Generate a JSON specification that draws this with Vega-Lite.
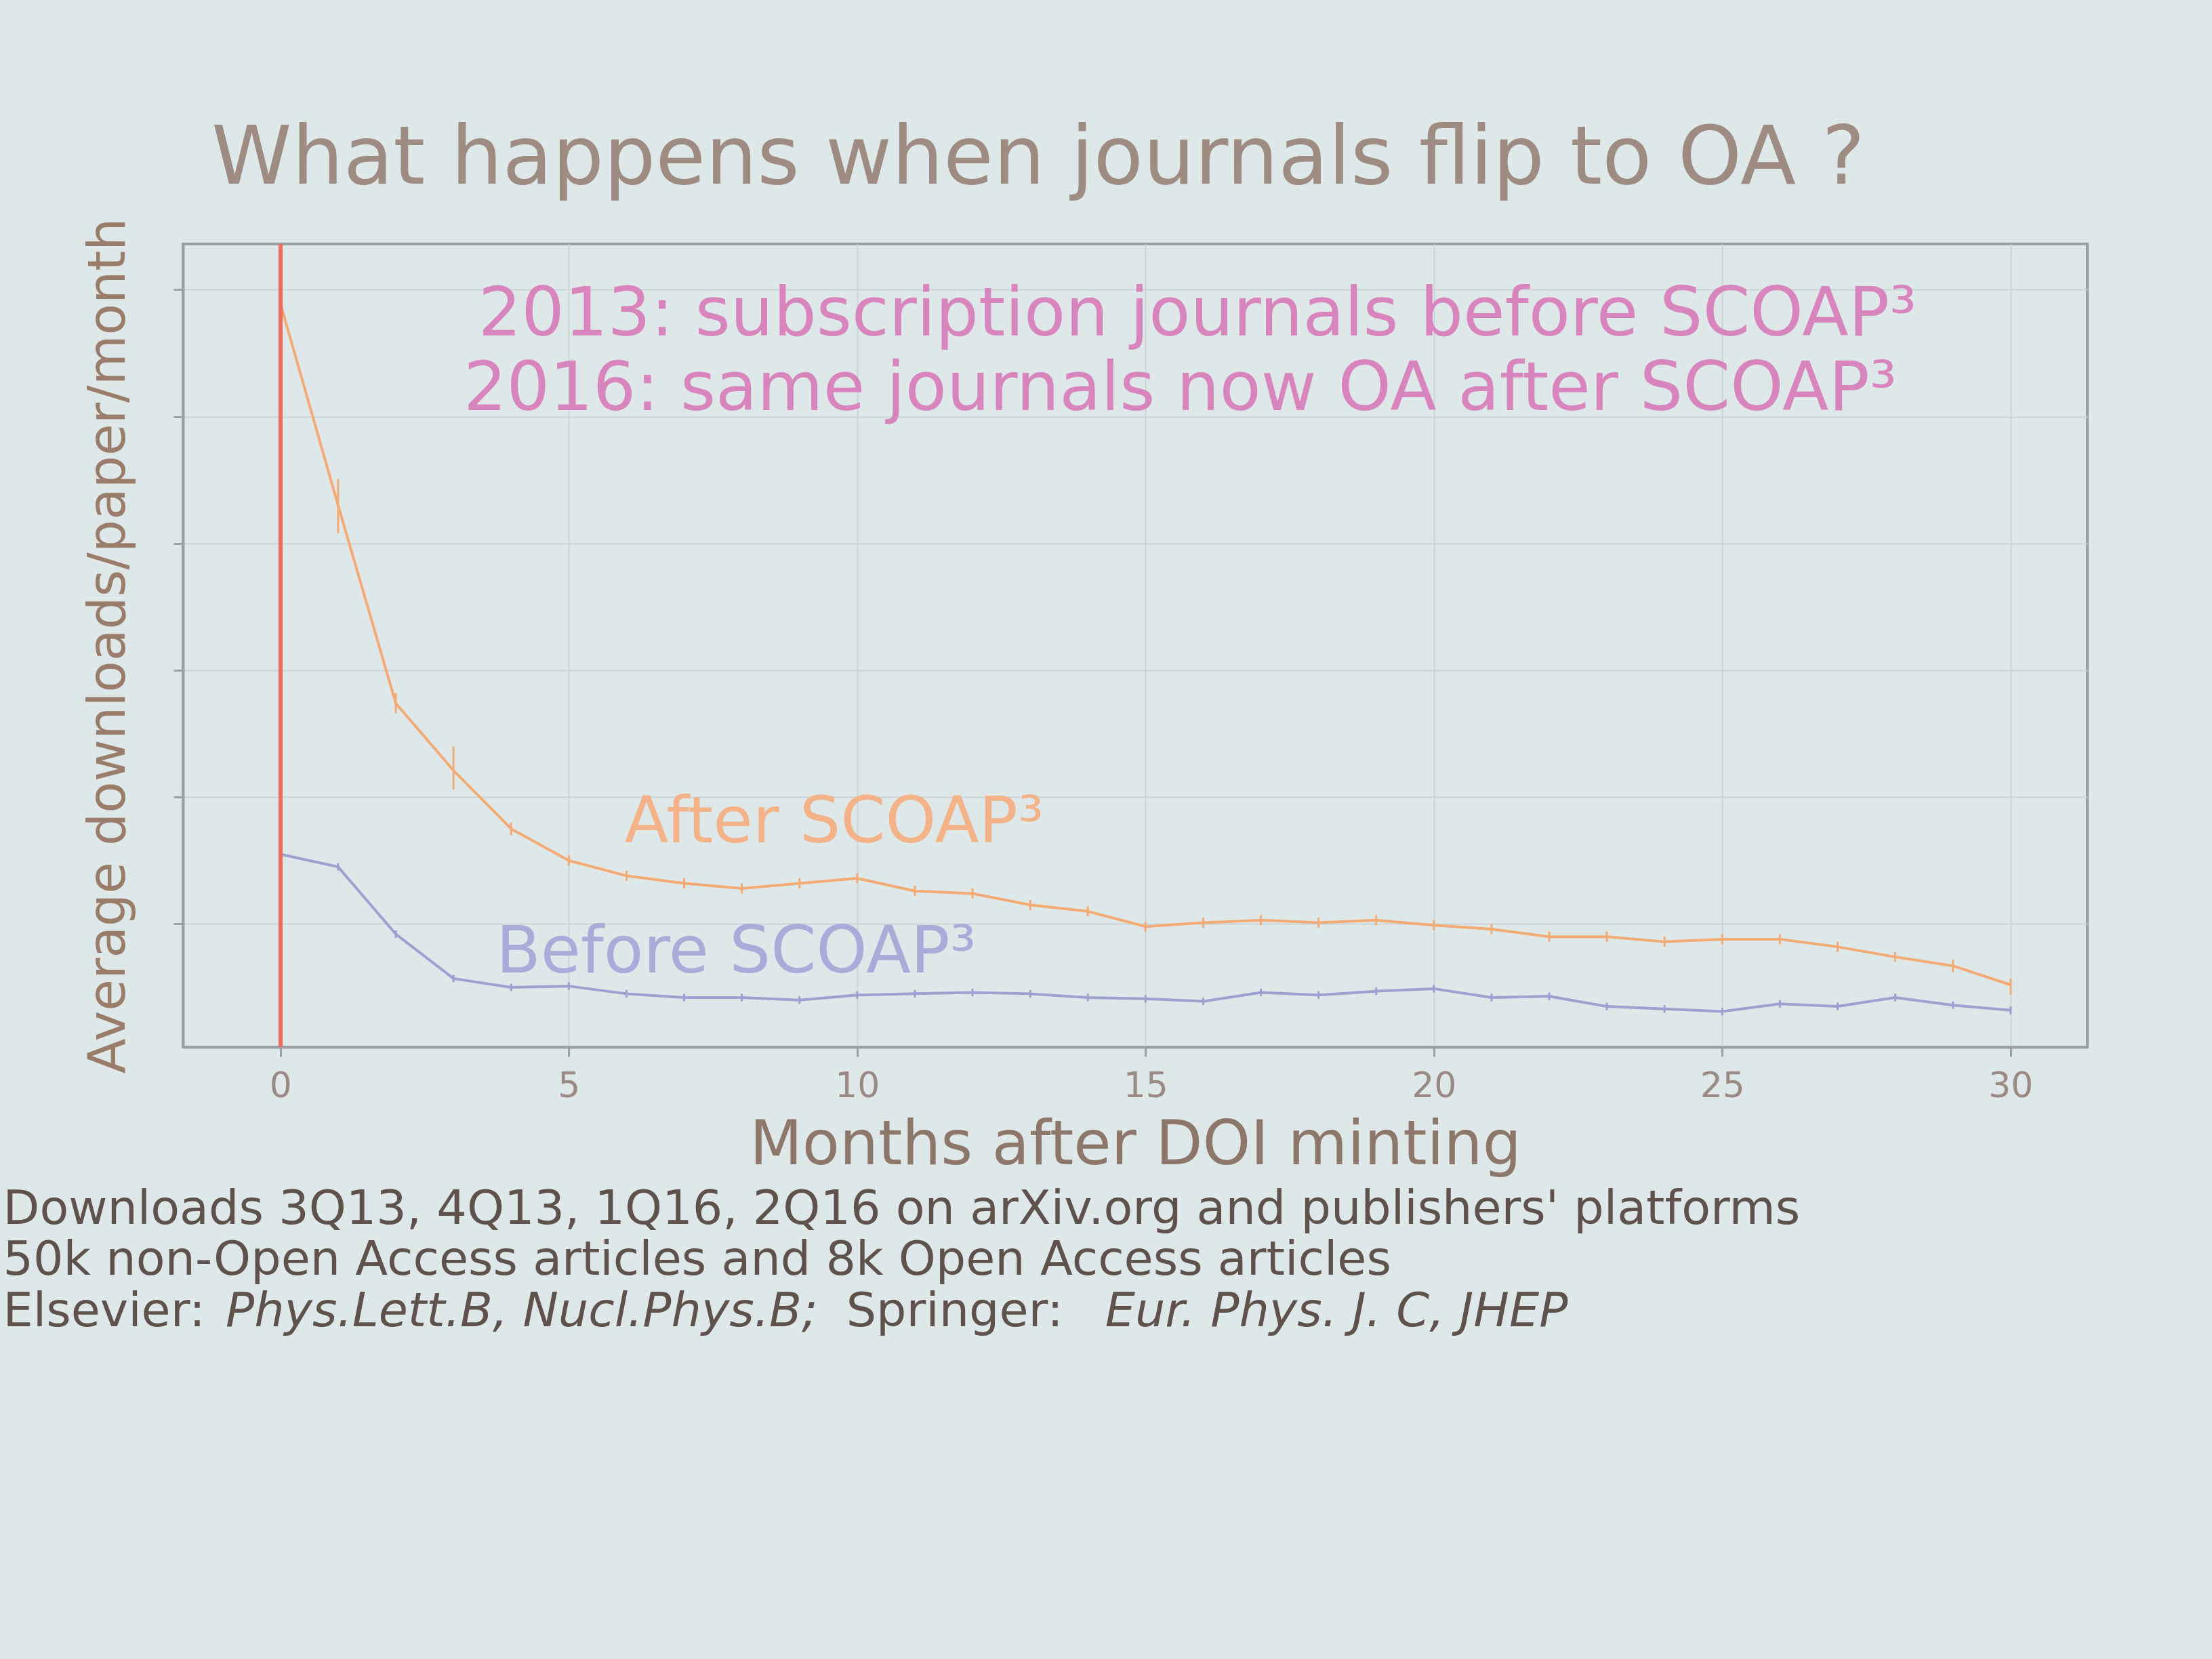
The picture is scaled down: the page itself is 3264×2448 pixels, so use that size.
{
  "$schema": "https://vega.github.io/schema/vega-lite/v6.json",
  "width": 2810,
  "height": 1185,
  "autosize": {"type": "none"},
  "padding": {"left": 270, "top": 360, "right": 184, "bottom": 903},
  "background": "#dfe8e9",
  "config": {
    "font": "DejaVu Sans",
    "view": {"stroke": "#9aa0a5", "strokeWidth": 4},
    "axis": {
      "titleFont": "DejaVu Sans",
      "titleFontWeight": "normal",
      "labelFont": "DejaVu Sans",
      "tickSize": 14,
      "tickWidth": 3,
      "tickColor": "#9aa0a5",
      "domainColor": "#9aa0a5",
      "domainWidth": 4,
      "grid": true,
      "gridColor": "#cbd3d7",
      "gridWidth": 2
    },
    "axisX": {
      "titleFontSize": 90,
      "titleColor": "#8d766a",
      "titlePadding": 18,
      "labelFontSize": 52,
      "labelColor": "#9a8a84",
      "labelPadding": 18
    },
    "axisY": {
      "labels": false,
      "titleFontSize": 76,
      "titleColor": "#9a7c6a",
      "titlePadding": 55
    }
  },
  "title": {
    "text": "What happens when journals flip to OA ?",
    "anchor": "start",
    "frame": "group",
    "dx": 42,
    "dy": 118,
    "offset": 48,
    "baseline": "alphabetic",
    "fontSize": 120,
    "fontWeight": "normal",
    "font": "DejaVu Sans",
    "color": "#9e8c83"
  },
  "data": {
    "values": [
      {"month": 0, "series": "After SCOAP3", "value": 5.89, "lo": 5.80, "hi": 5.98},
      {"month": 1, "series": "After SCOAP3", "value": 4.30, "lo": 4.08, "hi": 4.51},
      {"month": 2, "series": "After SCOAP3", "value": 2.74, "lo": 2.66, "hi": 2.82},
      {"month": 3, "series": "After SCOAP3", "value": 2.21, "lo": 2.06, "hi": 2.40},
      {"month": 4, "series": "After SCOAP3", "value": 1.75, "lo": 1.70, "hi": 1.80},
      {"month": 5, "series": "After SCOAP3", "value": 1.50, "lo": 1.46, "hi": 1.54},
      {"month": 6, "series": "After SCOAP3", "value": 1.38, "lo": 1.34, "hi": 1.42},
      {"month": 7, "series": "After SCOAP3", "value": 1.32, "lo": 1.28, "hi": 1.36},
      {"month": 8, "series": "After SCOAP3", "value": 1.28, "lo": 1.24, "hi": 1.32},
      {"month": 9, "series": "After SCOAP3", "value": 1.32, "lo": 1.28, "hi": 1.36},
      {"month": 10, "series": "After SCOAP3", "value": 1.36, "lo": 1.32, "hi": 1.40},
      {"month": 11, "series": "After SCOAP3", "value": 1.26, "lo": 1.22, "hi": 1.30},
      {"month": 12, "series": "After SCOAP3", "value": 1.24, "lo": 1.20, "hi": 1.28},
      {"month": 13, "series": "After SCOAP3", "value": 1.15, "lo": 1.11, "hi": 1.19},
      {"month": 14, "series": "After SCOAP3", "value": 1.10, "lo": 1.06, "hi": 1.14},
      {"month": 15, "series": "After SCOAP3", "value": 0.98, "lo": 0.94, "hi": 1.02},
      {"month": 16, "series": "After SCOAP3", "value": 1.01, "lo": 0.97, "hi": 1.05},
      {"month": 17, "series": "After SCOAP3", "value": 1.03, "lo": 0.99, "hi": 1.07},
      {"month": 18, "series": "After SCOAP3", "value": 1.01, "lo": 0.97, "hi": 1.05},
      {"month": 19, "series": "After SCOAP3", "value": 1.03, "lo": 0.99, "hi": 1.07},
      {"month": 20, "series": "After SCOAP3", "value": 0.99, "lo": 0.95, "hi": 1.03},
      {"month": 21, "series": "After SCOAP3", "value": 0.96, "lo": 0.92, "hi": 1.00},
      {"month": 22, "series": "After SCOAP3", "value": 0.90, "lo": 0.86, "hi": 0.94},
      {"month": 23, "series": "After SCOAP3", "value": 0.90, "lo": 0.86, "hi": 0.94},
      {"month": 24, "series": "After SCOAP3", "value": 0.86, "lo": 0.82, "hi": 0.90},
      {"month": 25, "series": "After SCOAP3", "value": 0.88, "lo": 0.84, "hi": 0.92},
      {"month": 26, "series": "After SCOAP3", "value": 0.88, "lo": 0.84, "hi": 0.92},
      {"month": 27, "series": "After SCOAP3", "value": 0.82, "lo": 0.78, "hi": 0.86},
      {"month": 28, "series": "After SCOAP3", "value": 0.74, "lo": 0.70, "hi": 0.78},
      {"month": 29, "series": "After SCOAP3", "value": 0.67, "lo": 0.62, "hi": 0.72},
      {"month": 30, "series": "After SCOAP3", "value": 0.52, "lo": 0.44, "hi": 0.57},
      {"month": 0, "series": "Before SCOAP3", "value": 1.55, "lo": 1.51, "hi": 1.59},
      {"month": 1, "series": "Before SCOAP3", "value": 1.45, "lo": 1.42, "hi": 1.48},
      {"month": 2, "series": "Before SCOAP3", "value": 0.92, "lo": 0.89, "hi": 0.95},
      {"month": 3, "series": "Before SCOAP3", "value": 0.57, "lo": 0.54, "hi": 0.60},
      {"month": 4, "series": "Before SCOAP3", "value": 0.50, "lo": 0.47, "hi": 0.53},
      {"month": 5, "series": "Before SCOAP3", "value": 0.51, "lo": 0.48, "hi": 0.54},
      {"month": 6, "series": "Before SCOAP3", "value": 0.45, "lo": 0.42, "hi": 0.48},
      {"month": 7, "series": "Before SCOAP3", "value": 0.42, "lo": 0.39, "hi": 0.45},
      {"month": 8, "series": "Before SCOAP3", "value": 0.42, "lo": 0.39, "hi": 0.45},
      {"month": 9, "series": "Before SCOAP3", "value": 0.40, "lo": 0.37, "hi": 0.43},
      {"month": 10, "series": "Before SCOAP3", "value": 0.44, "lo": 0.41, "hi": 0.47},
      {"month": 11, "series": "Before SCOAP3", "value": 0.45, "lo": 0.42, "hi": 0.48},
      {"month": 12, "series": "Before SCOAP3", "value": 0.46, "lo": 0.43, "hi": 0.49},
      {"month": 13, "series": "Before SCOAP3", "value": 0.45, "lo": 0.42, "hi": 0.48},
      {"month": 14, "series": "Before SCOAP3", "value": 0.42, "lo": 0.39, "hi": 0.45},
      {"month": 15, "series": "Before SCOAP3", "value": 0.41, "lo": 0.38, "hi": 0.44},
      {"month": 16, "series": "Before SCOAP3", "value": 0.39, "lo": 0.36, "hi": 0.42},
      {"month": 17, "series": "Before SCOAP3", "value": 0.46, "lo": 0.43, "hi": 0.49},
      {"month": 18, "series": "Before SCOAP3", "value": 0.44, "lo": 0.41, "hi": 0.47},
      {"month": 19, "series": "Before SCOAP3", "value": 0.47, "lo": 0.44, "hi": 0.50},
      {"month": 20, "series": "Before SCOAP3", "value": 0.49, "lo": 0.46, "hi": 0.52},
      {"month": 21, "series": "Before SCOAP3", "value": 0.42, "lo": 0.39, "hi": 0.45},
      {"month": 22, "series": "Before SCOAP3", "value": 0.43, "lo": 0.40, "hi": 0.46},
      {"month": 23, "series": "Before SCOAP3", "value": 0.35, "lo": 0.32, "hi": 0.38},
      {"month": 24, "series": "Before SCOAP3", "value": 0.33, "lo": 0.30, "hi": 0.36},
      {"month": 25, "series": "Before SCOAP3", "value": 0.31, "lo": 0.28, "hi": 0.34},
      {"month": 26, "series": "Before SCOAP3", "value": 0.37, "lo": 0.34, "hi": 0.40},
      {"month": 27, "series": "Before SCOAP3", "value": 0.35, "lo": 0.32, "hi": 0.38},
      {"month": 28, "series": "Before SCOAP3", "value": 0.42, "lo": 0.39, "hi": 0.45},
      {"month": 29, "series": "Before SCOAP3", "value": 0.36, "lo": 0.33, "hi": 0.39},
      {"month": 30, "series": "Before SCOAP3", "value": 0.32, "lo": 0.29, "hi": 0.35}
    ]
  },
  "layer": [
    {
      "mark": {"type": "line", "strokeWidth": 4},
      "encoding": {
        "x": {
          "field": "month", "type": "quantitative",
          "title": "Months after DOI minting",
          "scale": {"domain": [-1.69, 31.33], "nice": false, "zero": false},
          "axis": {"values": [0, 5, 10, 15, 20, 25, 30], "format": "d"}
        },
        "y": {
          "field": "value", "type": "quantitative",
          "title": "Average downloads/paper/month",
          "scale": {"domain": [0.03, 6.36], "nice": false, "zero": false},
          "axis": {"values": [1, 2, 3, 4, 5, 6]}
        },
        "color": {
          "field": "series", "type": "nominal",
          "scale": {"domain": ["After SCOAP3", "Before SCOAP3"], "range": ["#f3ab76", "#9ea0d0"]},
          "legend": null
        }
      }
    },
    {
      "mark": {"type": "rule", "strokeWidth": 3},
      "encoding": {
        "x": {"field": "month", "type": "quantitative", "title": "Months after DOI minting"},
        "y": {"field": "lo", "type": "quantitative", "title": "Average downloads/paper/month"},
        "y2": {"field": "hi"},
        "color": {"field": "series", "type": "nominal", "legend": null}
      }
    },
    {
      "mark": {"type": "rule", "strokeWidth": 5, "color": "#ee6a5d"},
      "encoding": {
        "x": {"datum": 0, "type": "quantitative", "title": "Months after DOI minting"}
      }
    },
    {
      "data": {"values": [{"t": "2013: subscription journals before SCOAP³"}]},
      "mark": {"type": "text", "align": "center", "baseline": "middle", "font": "DejaVu Sans", "fontSize": 100, "color": "#d884bd"},
      "encoding": {
        "x": {"datum": 15.9, "type": "quantitative", "title": "Months after DOI minting"},
        "y": {"datum": 5.8, "type": "quantitative", "title": "Average downloads/paper/month"},
        "text": {"field": "t"}
      }
    },
    {
      "data": {"values": [{"t": "2016: same journals now  OA after SCOAP³"}]},
      "mark": {"type": "text", "align": "center", "baseline": "middle", "font": "DejaVu Sans", "fontSize": 100, "color": "#d884bd"},
      "encoding": {
        "x": {"datum": 15.6, "type": "quantitative", "title": "Months after DOI minting"},
        "y": {"datum": 5.21, "type": "quantitative", "title": "Average downloads/paper/month"},
        "text": {"field": "t"}
      }
    },
    {
      "data": {"values": [{"t": "After SCOAP³"}]},
      "mark": {"type": "text", "align": "center", "baseline": "middle", "font": "DejaVu Sans", "fontSize": 95, "color": "#f3b287"},
      "encoding": {
        "x": {"datum": 9.6, "type": "quantitative", "title": "Months after DOI minting"},
        "y": {"datum": 1.8, "type": "quantitative", "title": "Average downloads/paper/month"},
        "text": {"field": "t"}
      }
    },
    {
      "data": {"values": [{"t": "Before SCOAP³"}]},
      "mark": {"type": "text", "align": "center", "baseline": "middle", "font": "DejaVu Sans", "fontSize": 96, "color": "#aaabd8"},
      "encoding": {
        "x": {"datum": 7.9, "type": "quantitative", "title": "Months after DOI minting"},
        "y": {"datum": 0.77, "type": "quantitative", "title": "Average downloads/paper/month"},
        "text": {"field": "t"}
      }
    },
    {
      "data": {"values": [{"t": "Downloads 3Q13, 4Q13, 1Q16, 2Q16 on arXiv.org and publishers' platforms"}]},
      "mark": {"type": "text", "align": "left", "baseline": "middle", "font": "DejaVu Sans", "fontSize": 70, "color": "#5f514c"},
      "encoding": {
        "x": {"datum": -4.81, "type": "quantitative", "title": "Months after DOI minting"},
        "y": {"datum": -1.25, "type": "quantitative", "title": "Average downloads/paper/month"},
        "text": {"field": "t"}
      }
    },
    {
      "data": {"values": [{"t": "50k non-Open Access articles and 8k Open Access articles"}]},
      "mark": {"type": "text", "align": "left", "baseline": "middle", "font": "DejaVu Sans", "fontSize": 70, "color": "#5f514c"},
      "encoding": {
        "x": {"datum": -4.81, "type": "quantitative", "title": "Months after DOI minting"},
        "y": {"datum": -1.655, "type": "quantitative", "title": "Average downloads/paper/month"},
        "text": {"field": "t"}
      }
    },
    {
      "data": {"values": [{"t": "Elsevier:"}]},
      "mark": {"type": "text", "align": "left", "baseline": "middle", "font": "DejaVu Sans", "fontSize": 70, "color": "#5f514c"},
      "encoding": {
        "x": {"datum": -4.81, "type": "quantitative", "title": "Months after DOI minting"},
        "y": {"datum": -2.06, "type": "quantitative", "title": "Average downloads/paper/month"},
        "text": {"field": "t"}
      }
    },
    {
      "data": {"values": [{"t": "Phys.Lett.B, Nucl.Phys.B;"}]},
      "mark": {"type": "text", "align": "left", "baseline": "middle", "font": "DejaVu Sans", "fontStyle": "italic", "fontSize": 70, "color": "#5f514c"},
      "encoding": {
        "x": {"datum": -0.95, "type": "quantitative", "title": "Months after DOI minting"},
        "y": {"datum": -2.06, "type": "quantitative", "title": "Average downloads/paper/month"},
        "text": {"field": "t"}
      }
    },
    {
      "data": {"values": [{"t": "Springer:"}]},
      "mark": {"type": "text", "align": "left", "baseline": "middle", "font": "DejaVu Sans", "fontSize": 70, "color": "#5f514c"},
      "encoding": {
        "x": {"datum": 9.81, "type": "quantitative", "title": "Months after DOI minting"},
        "y": {"datum": -2.06, "type": "quantitative", "title": "Average downloads/paper/month"},
        "text": {"field": "t"}
      }
    },
    {
      "data": {"values": [{"t": "Eur. Phys. J. C, JHEP"}]},
      "mark": {"type": "text", "align": "left", "baseline": "middle", "font": "DejaVu Sans", "fontStyle": "italic", "fontSize": 70, "color": "#5f514c"},
      "encoding": {
        "x": {"datum": 14.3, "type": "quantitative", "title": "Months after DOI minting"},
        "y": {"datum": -2.06, "type": "quantitative", "title": "Average downloads/paper/month"},
        "text": {"field": "t"}
      }
    }
  ]
}
